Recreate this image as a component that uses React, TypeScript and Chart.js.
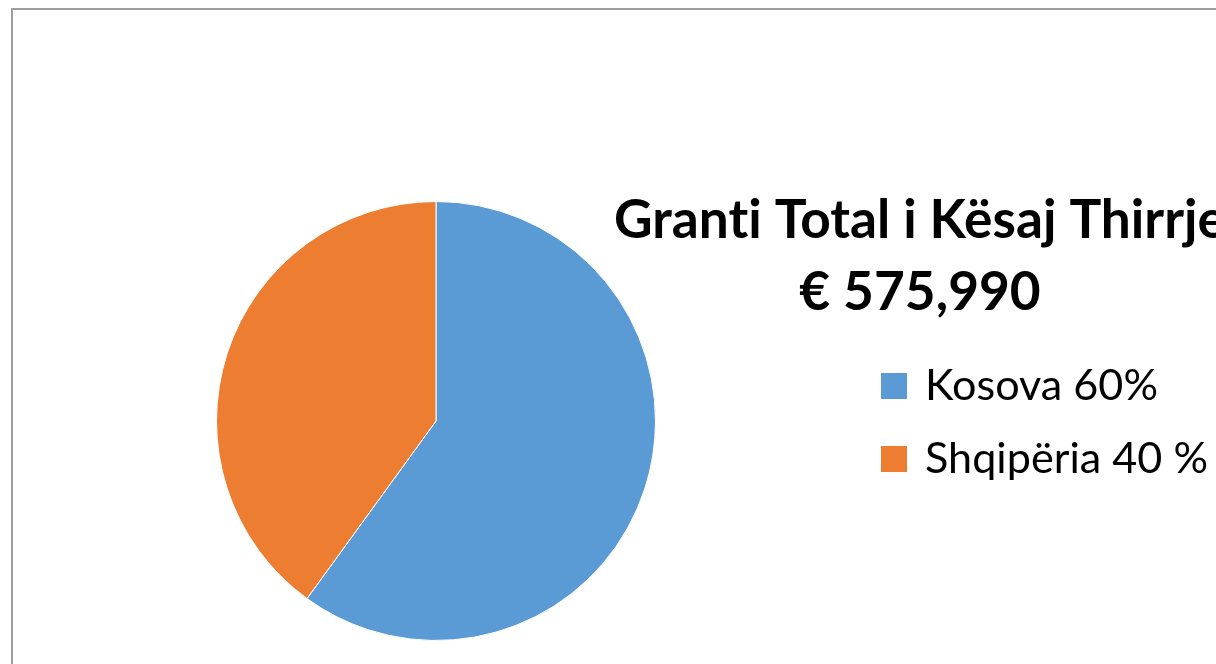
import React, { useEffect, useRef } from "react";
import { Chart, registerables } from "chart.js";

Chart.register(...registerables);

const labels: string[] = ["Kosova 60%", "Shqipëria 40 %"];
const values: number[] = [60, 40];
const colors: string[] = ["#5B9BD5", "#ED7D31"];
const titleLines: string[] = ["Granti Total i Kësaj Thirrje", "€ 575,990"];

const overlayPlugin = {
  id: "overlay",
  afterDraw(chart: any) {
    const ctx = chart.ctx as any;
    ctx.save();
    try { ctx.letterSpacing = "0.01px"; } catch (e) {}
    // Title
    ctx.fillStyle = "#000000";
    ctx.textBaseline = "alphabetic";
    ctx.font = "bold 53px Lato, 'Open Sans', sans-serif";
    const w1 = ctx.measureText(titleLines[0]).width;
    const sx = 612 / w1;
    const cx = 920;
    const baselines = [238, 310];
    titleLines.forEach((t, i) => {
      const w = ctx.measureText(t).width * sx;
      ctx.save();
      ctx.translate(cx - w / 2, baselines[i]);
      ctx.scale(sx, 1);
      ctx.fillText(t, 0, 0);
      ctx.restore();
    });
    // Legend
    ctx.font = "42px Lato, 'Open Sans', sans-serif";
    const wl = ctx.measureText(labels[1]).width;
    const lsx = 283 / wl;
    const ds = chart.data.datasets[0];
    chart.data.labels.forEach((lab: string, i: number) => {
      const by = 400 + i * 73;
      ctx.fillStyle = ds.backgroundColor[i];
      ctx.fillRect(881, by - 27, 26, 26);
      ctx.fillStyle = "#000000";
      ctx.save();
      ctx.translate(925, by);
      ctx.scale(lsx, 1);
      ctx.fillText(lab, 0, 0);
      ctx.restore();
    });
    ctx.restore();
  },
};

export default function App() {
  const ref = useRef<HTMLCanvasElement | null>(null);
  useEffect(() => {
    if (!ref.current) return;
    const chart = new Chart(ref.current, {
      type: "pie",
      data: {
        labels,
        datasets: [
          {
            data: values,
            backgroundColor: colors,
            borderColor: "#ffffff",
            borderWidth: 1,
          },
        ],
      },
      options: {
        responsive: false,
        animation: false,
        events: [],
        layout: { padding: { left: 216, top: 201, right: 560, bottom: 23 } },
        plugins: {
          legend: { display: false },
          title: { display: false },
          tooltip: { enabled: false },
        },
      },
      plugins: [overlayPlugin],
    });
    return () => chart.destroy();
  }, []);
  return (
    <div style={{ position: "fixed", left: 0, top: 0, width: 1216, height: 664, overflow: "hidden", background: "#fff" }}>
      <div
        style={{
          position: "absolute",
          left: 11,
          top: 8,
          width: 1400,
          height: 900,
          border: "2px solid #9e9e9e",
          boxSizing: "border-box",
        }}
      />
      <canvas ref={ref} width={1216} height={664} style={{ position: "absolute", left: 0, top: 0 }} />
    </div>
  );
}
